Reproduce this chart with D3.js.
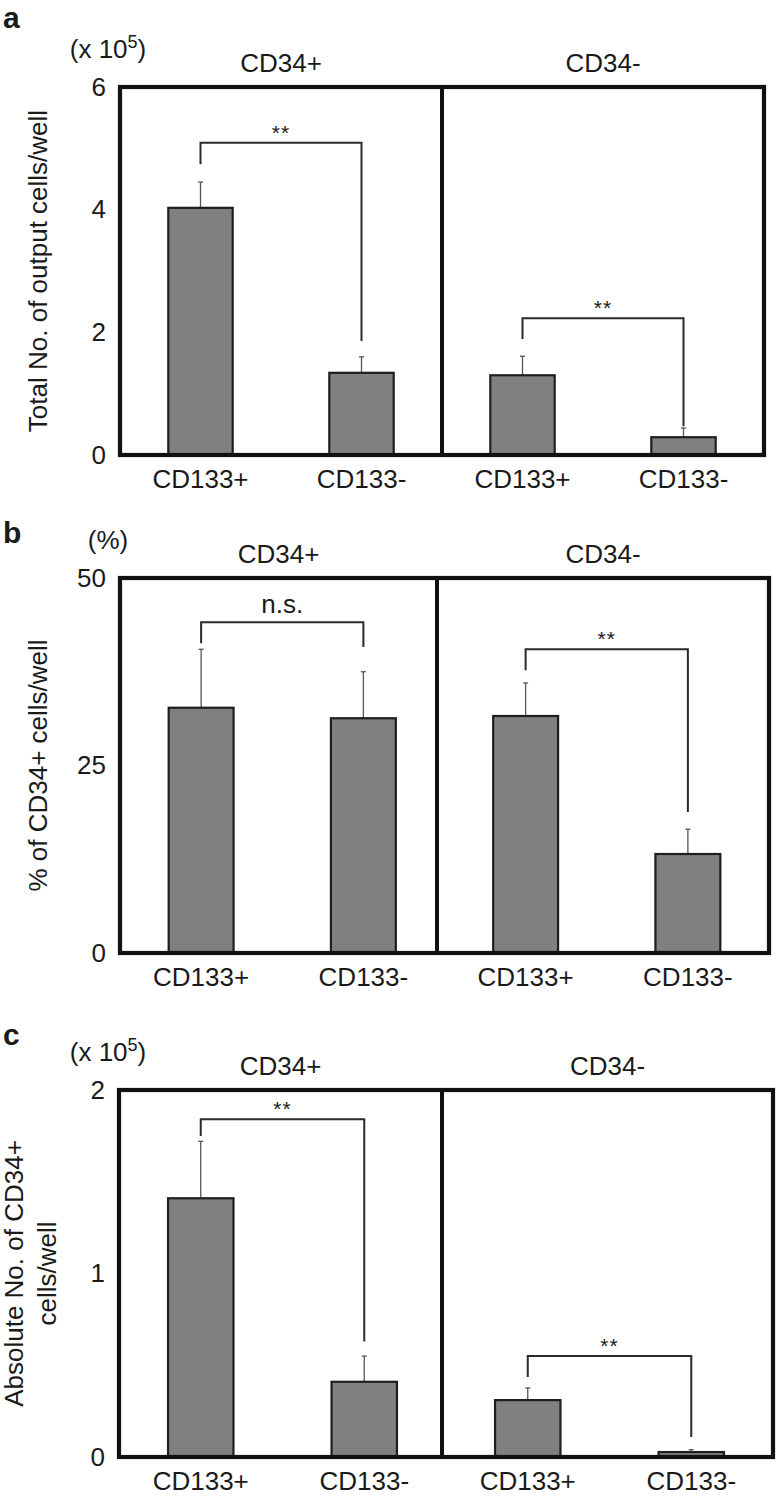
<!DOCTYPE html>
<html><head><meta charset="utf-8">
<script src="https://cdn.jsdelivr.net/npm/d3@7"></script>
<style>
body{margin:0;background:#fff}
svg{display:block}
text{font-family:"Liberation Sans",Arial,Helvetica,sans-serif;fill:#1a1a1a}
</style>
</head><body><svg id="chart" width="777" height="1498"></svg>
<script>
// ---------- data ----------
const groups = ["CD34+", "CD34-"];
const categories = ["CD133+", "CD133-"];

// panel a: total no. of output cells/well (x 10^5)
const totalMean = [4.03, 1.34, 1.30, 0.29];
const totalErr = [0.42, 0.26, 0.31, 0.15];
const totalTicks = [0, 2, 4, 6];
const totalBracketTop = [5.09, 2.23];
const totalBracketLegL = [4.74, 1.89];
const totalBracketLegR = [1.86, 0.47];
const totalSig = ["**", "**"];

// panel b: % of CD34+ cells/well
const pctMean = [32.7, 31.3, 31.6, 13.2];
const pctErr = [7.8, 6.2, 4.4, 3.3];
const pctTicks = [0, 25, 50];
const pctBracketTop = [44.1, 40.5];
const pctBracketLegL = [41.3, 37.7];
const pctBracketLegR = [40.8, 18.8];
const pctSig = ["n.s.", "**"];

// panel c: absolute no. of CD34+ cells/well (x 10^5)
const absMean = [1.41, 0.41, 0.31, 0.027];
const absErr = [0.31, 0.14, 0.066, 0.013];
const absTicks = [0, 1, 2];
const absBracketTop = [1.84, 0.55];
const absBracketLegL = [1.75, 0.436];
const absBracketLegR = [0.63, 0.109];
const absSig = ["**", "**"];

// ---------- layout ----------
const panels = [
  {letter:"a", letterY:28, unit:"(x 10", sup:"5", yTitle:["Total No. of output cells/well"],
   mean:totalMean, err:totalErr, ticks:totalTicks, bTop:totalBracketTop, bL:totalBracketLegL, bR:totalBracketLegR, sig:totalSig,
   box:{l:120, r:764, t:87, b:455, div:442}},
  {letter:"b", letterY:543, unit:"(%)", sup:null, yTitle:["% of CD34+ cells/well"],
   mean:pctMean, err:pctErr, ticks:pctTicks, bTop:pctBracketTop, bL:pctBracketLegL, bR:pctBracketLegR, sig:pctSig,
   box:{l:120, r:769, t:578, b:953, div:437}},
  {letter:"c", letterY:1045, unit:"(x 10", sup:"5", yTitle:["Absolute No. of CD34+", "cells/well"],
   mean:absMean, err:absErr, ticks:absTicks, bTop:absBracketTop, bL:absBracketLegL, bR:absBracketLegR, sig:absSig,
   box:{l:119, r:773, t:1090, b:1457, div:442}}
];

const svg = d3.select("#chart");
const keys = groups.flatMap(g => categories.map(c => g + "|" + c));
const FS = 26;

panels.forEach(p => {
  const bx = p.box;
  const g = svg.append("g");
  const y = d3.scaleLinear().domain([0, d3.max(p.ticks)]).range([bx.b, bx.t]);
  const x = d3.scaleBand().domain(keys).range([bx.l, bx.r]).paddingInner(0.6).paddingOuter(0.3);
  const cx = k => x(k) + x.bandwidth() / 2;
  const rows = keys.map((k, i) => ({k, v:p.mean[i], e:p.err[i]}));

  // error bars
  const eb = g.append("g").attr("stroke", "#555").attr("stroke-width", 1.3);
  rows.forEach(d => {
    eb.append("line").attr("x1", cx(d.k)).attr("x2", cx(d.k)).attr("y1", y(d.v)).attr("y2", y(d.v + d.e));
    eb.append("line").attr("x1", cx(d.k) - 2.5).attr("x2", cx(d.k) + 2.5).attr("y1", y(d.v + d.e)).attr("y2", y(d.v + d.e));
  });

  // bars
  g.append("g").selectAll("rect").data(rows).join("rect")
    .attr("x", d => x(d.k)).attr("y", d => y(d.v))
    .attr("width", x.bandwidth()).attr("height", d => y(0) - y(d.v))
    .attr("fill", "#808080").attr("stroke", "#1e1e1e").attr("stroke-width", 2.2);

  // brackets
  groups.forEach((gr, gi) => {
    const k1 = gr + "|" + categories[0], k2 = gr + "|" + categories[1];
    const x1 = cx(k1), x2 = cx(k2);
    g.append("path")
      .attr("d", `M${x1},${y(p.bL[gi])}V${y(p.bTop[gi])}H${x2}V${y(p.bR[gi])}`)
      .attr("fill", "none").attr("stroke", "#2a2a2a").attr("stroke-width", 2);
    const isStar = p.sig[gi] === "**";
    g.append("text").attr("x", (x1 + x2) / 2).attr("y", y(p.bTop[gi]) - (isStar ? 3 : 9))
      .attr("text-anchor", "middle").attr("font-size", isStar ? 21 : FS).attr("letter-spacing", isStar ? 1 : 0)
      .text(p.sig[gi]);
  });

  // frame
  g.append("rect").attr("x", bx.l).attr("y", bx.t).attr("width", bx.r - bx.l).attr("height", bx.b - bx.t)
    .attr("fill", "none").attr("stroke", "#111").attr("stroke-width", 4.2);
  g.append("line").attr("x1", bx.div).attr("x2", bx.div).attr("y1", bx.t).attr("y2", bx.b)
    .attr("stroke", "#111").attr("stroke-width", 4);

  // y axis
  const ax = g.append("g").attr("transform", `translate(${bx.l},0)`)
    .call(d3.axisLeft(y).tickValues(p.ticks).tickSize(0).tickPadding(14).tickFormat(d3.format("d")));
  ax.select(".domain").remove();
  ax.selectAll("text").attr("font-size", 26).attr("font-family", null).attr("fill", "#1a1a1a");

  // x category labels
  g.append("g").selectAll("text").data(keys).join("text")
    .attr("x", k => cx(k)).attr("y", bx.b + 33).attr("text-anchor", "middle")
    .attr("font-size", FS).text(k => k.split("|")[1]);

  // group titles
  const sections = [[bx.l, bx.div], [bx.div, bx.r]];
  groups.forEach((gr, gi) => {
    g.append("text").attr("x", (sections[gi][0] + sections[gi][1]) / 2).attr("y", bx.t - 15)
      .attr("text-anchor", "middle").attr("font-size", FS).text(gr);
  });

  // unit label
  const u = g.append("text").attr("x", 108).attr("y", bx.t - 29).attr("text-anchor", "middle").attr("font-size", FS);
  u.append("tspan").text(p.unit);
  if (p.sup) {
    u.append("tspan").attr("font-size", 18).attr("dy", -10).text(p.sup);
    u.append("tspan").attr("dy", 10).text(")");
  }

  // y title
  const ym = (bx.t + bx.b) / 2;
  const lines = p.yTitle;
  const baseX = lines.length === 1 ? 47 : 23;
  lines.forEach((ln, li) => {
    g.append("text").attr("transform", `translate(${baseX + li * 33},${ym}) rotate(-90)`)
      .attr("text-anchor", "middle").attr("font-size", FS).text(ln);
  });

  // panel letter
  g.append("text").attr("x", 3).attr("y", p.letterY).attr("font-size", 30).attr("font-weight", "bold").text(p.letter);
});
</script>
</body></html>
